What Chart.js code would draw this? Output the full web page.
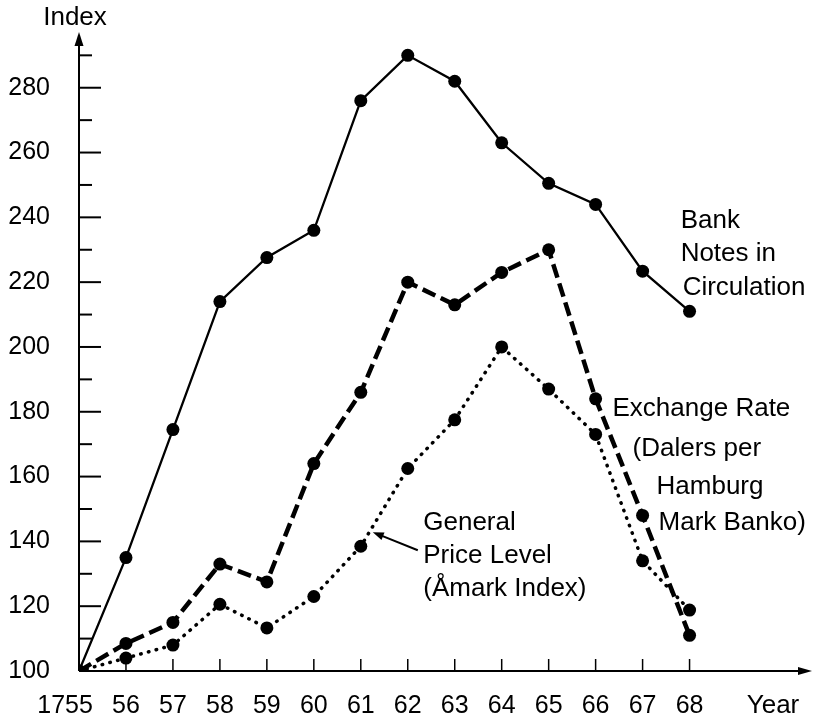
<!DOCTYPE html>
<html>
<head>
<meta charset="utf-8">
<script src="https://cdn.jsdelivr.net/npm/chart.js@4/dist/chart.umd.min.js"></script>
<style>
  body { margin: 0; background: #fff; }
  #wrap { width: 813px; height: 720px; }
</style>
</head>
<body>
<div id="wrap"><canvas id="chart"></canvas></div>
<script>
// values
const years = [1755, 1756, 1757, 1758, 1759, 1760, 1761, 1762, 1763, 1764, 1765, 1766, 1767, 1768];
const yearLabels = ["1755", "56", "57", "58", "59", "60", "61", "62", "63", "64", "65", "66", "67", "68"];
const bankNotes = [100, 135, 174.5, 214, 227.6, 236, 276, 290, 282, 263, 250.5, 244, 223.4, 211];
const exchangeRate = [100, 108.5, 115, 133, 127.5, 164, 186, 220, 213, 223, 230, 184, 148, 111];
const priceLevel = [100, 104, 108, 120.6, 113.3, 123, 138.5, 162.5, 177.5, 200, 187, 173, 134, 118.8];
const yMajorTicks = [100, 120, 140, 160, 180, 200, 220, 240, 260, 280];

const FONT = "'Liberation Sans', Arial, Helvetica, sans-serif";

function toPoints(values) {
  return years.map((yr, i) => ({ x: yr, y: values[i] }));
}

// axes with inside ticks, arrows and the text labels
const axisPlugin = {
  id: "axisPlugin",
  beforeDatasetsDraw(chart) {
    const ctx = chart.ctx;
    const area = chart.chartArea;
    const xs = chart.scales.x;
    const ys = chart.scales.y;
    const x0 = xs.getPixelForValue(years[0]);
    const y0 = ys.getPixelForValue(100);
    const xEnd = chart.width - 1;

    ctx.save();
    ctx.strokeStyle = "#000";
    ctx.fillStyle = "#000";

    // y axis line + arrow
    ctx.lineWidth = 2;
    ctx.beginPath();
    ctx.moveTo(x0, y0);
    ctx.lineTo(x0, area.top + 10);
    ctx.stroke();
    ctx.beginPath();
    ctx.moveTo(x0, area.top);
    ctx.lineTo(x0 - 4.5, area.top + 14);
    ctx.lineTo(x0 + 4.5, area.top + 14);
    ctx.closePath();
    ctx.fill();

    // x axis line + arrow
    ctx.beginPath();
    ctx.moveTo(x0, y0);
    ctx.lineTo(xEnd - 10, y0);
    ctx.stroke();
    ctx.beginPath();
    ctx.moveTo(xEnd, y0);
    ctx.lineTo(xEnd - 14, y0 - 4);
    ctx.lineTo(xEnd - 14, y0 + 4);
    ctx.closePath();
    ctx.fill();

    // y ticks (inside, major every 20, minor every 10)
    ctx.lineWidth = 2;
    for (let v = 110; v <= 290; v += 10) {
      const py = ys.getPixelForValue(v);
      const len = yMajorTicks.includes(v) ? 22 : 13;
      ctx.beginPath();
      ctx.moveTo(x0, py);
      ctx.lineTo(x0 + len, py);
      ctx.stroke();
    }

    // x ticks (inside, pointing up)
    ctx.lineWidth = 1.5;
    years.slice(1).forEach(yr => {
      const px = xs.getPixelForValue(yr);
      ctx.beginPath();
      ctx.moveTo(px, y0);
      ctx.lineTo(px, y0 - 12);
      ctx.stroke();
    });
    ctx.restore();
  },
  afterDraw(chart) {
    const ctx = chart.ctx;
    const xs = chart.scales.x;
    const ys = chart.scales.y;
    const y0 = ys.getPixelForValue(100);
    ctx.save();
    ctx.fillStyle = "#000";
    ctx.strokeStyle = "#000";

    // x tick labels: last two digits centred on the tick
    ctx.font = "25px " + FONT;
    ctx.textBaseline = "middle";
    ctx.textAlign = "right";
    yearLabels.forEach((lab, i) => {
      const px = xs.getPixelForValue(years[i]);
      const half = ctx.measureText(lab.slice(-2)).width / 2;
      ctx.fillText(lab, px + half, y0 + 35);
    });

    ctx.font = "26px " + FONT;
    ctx.textAlign = "center";
    ctx.fillText("Index", xs.getPixelForValue(years[0]) - 4, 18);
    ctx.fillText("Year", 773, y0 + 35);

    // series labels
    ctx.textAlign = "left";
    const blocks = [
      { x: 1767.81, y: 238.9, lines: [["Bank", 0, 0], ["Notes in", 0, 33], ["Circulation", 2, 67]] },
      { x: 1766.36, y: 180.9, lines: [["Exchange Rate", 0, 0], ["(Dalers per", 20, 40], ["Hamburg", 44, 78], ["Mark Banko)", 46, 114]] },
      { x: 1762.33, y: 145.7, lines: [["General", 0, 0], ["Price Level", 0, 33], ["(Åmark Index)", 0, 66]] }
    ];
    blocks.forEach(b => {
      const bx = xs.getPixelForValue(b.x);
      const by = ys.getPixelForValue(b.y);
      b.lines.forEach(([t, dx, dy]) => ctx.fillText(t, bx + dx, by + dy));
    });

    // pointer from price label to the 1761 point
    const px = xs.getPixelForValue(1761);
    const py = ys.getPixelForValue(priceLevel[6]);
    const tipX = px + 12, tipY = py - 14;
    const endX = px + 57, endY = py + 4;
    ctx.lineWidth = 2;
    ctx.beginPath();
    ctx.moveTo(endX, endY);
    ctx.lineTo(tipX + 8, tipY + 3.2);
    ctx.stroke();
    const ang = Math.atan2(tipY - endY, tipX - endX);
    ctx.beginPath();
    ctx.moveTo(tipX, tipY);
    ctx.lineTo(tipX - 11 * Math.cos(ang) + 4 * Math.sin(ang), tipY - 11 * Math.sin(ang) - 4 * Math.cos(ang));
    ctx.lineTo(tipX - 11 * Math.cos(ang) - 4 * Math.sin(ang), tipY - 11 * Math.sin(ang) + 4 * Math.cos(ang));
    ctx.closePath();
    ctx.fill();
    ctx.restore();
  }
};

const ctx = document.getElementById("chart").getContext("2d");
new Chart(ctx, {
  type: "scatter",
  data: {
    datasets: [
      {
        label: "Bank Notes in Circulation",
        data: toPoints(bankNotes),
        showLine: true,
        borderColor: "#000",
        borderWidth: 2.3,
        pointRadius: 6.5,
        pointBackgroundColor: "#000",
        pointBorderWidth: 0
      },
      {
        label: "Exchange Rate",
        data: toPoints(exchangeRate),
        showLine: true,
        borderColor: "#000",
        borderWidth: 4.5,
        borderDash: [14, 6],
        pointRadius: 6.5,
        pointBackgroundColor: "#000",
        pointBorderWidth: 0
      },
      {
        label: "General Price Level",
        data: toPoints(priceLevel),
        showLine: true,
        borderColor: "#000",
        borderWidth: 3.5,
        borderDash: [0.5, 7.5],
        borderCapStyle: "round",
        pointRadius: 6.5,
        pointBackgroundColor: "#000",
        pointBorderWidth: 0
      }
    ]
  },
  options: {
    responsive: true,
    maintainAspectRatio: false,
    animation: false,
    layout: { padding: { top: 32, right: 1, left: 0, bottom: 0 } },
    plugins: { legend: { display: false }, tooltip: { enabled: false } },
    scales: {
      x: {
        type: "linear",
        min: 1755,
        max: 1770.49,
        grid: { display: false, drawTicks: false },
        border: { display: false },
        ticks: { display: false },
        afterFit: s => { s.height = 49; s.paddingLeft = 0; s.paddingRight = 0; }
      },
      y: {
        min: 100,
        max: 297.2,
        grid: { display: false, drawTicks: false },
        border: { display: false },
        ticks: {
          stepSize: 10,
          includeBounds: false,
          autoSkip: false,
          padding: 29,
          color: "#000",
          font: { size: 25, family: FONT },
          callback: v => (yMajorTicks.includes(v) ? String(v) : "")
        },
        afterFit: s => { s.width = 79; s.paddingTop = 0; s.paddingBottom = 0; }
      }
    }
  },
  plugins: [axisPlugin]
});
</script>
</body>
</html>
